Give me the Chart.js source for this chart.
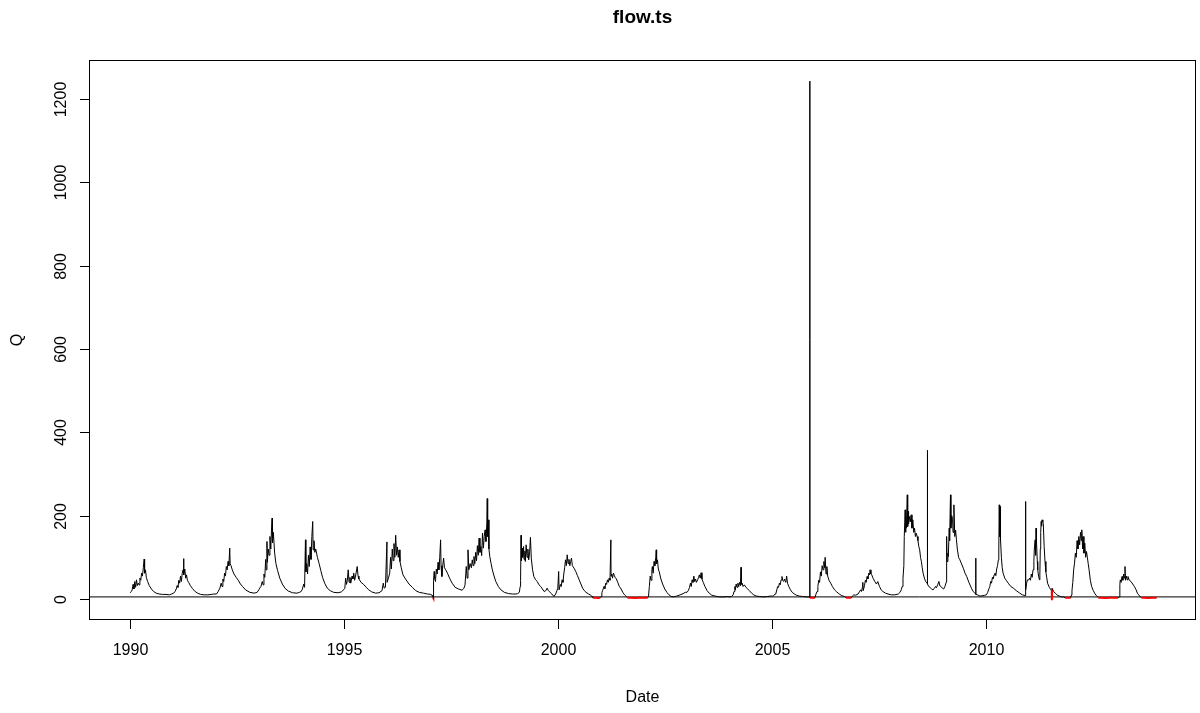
<!DOCTYPE html>
<html>
<head>
<meta charset="utf-8">
<title>flow.ts</title>
<script src="https://cdn.jsdelivr.net/npm/chart.js@4.4.1/dist/chart.umd.min.js"></script>
<style>
  html, body { margin: 0; padding: 0; background: #fff; }
  #wrap { position: relative; width: 1200px; height: 713px; }
</style>
</head>
<body>
<div id="wrap"><canvas id="chart-flow"></canvas></div>
<script>
// ─── DATA ────────────────────────────────────────────────────────────────────
// daily flow, as [fraction of year, Q]
const q1990 = [[0.00,15],[0.03,18],[0.05,22],[0.07,35],[0.09,24],[0.11,42],[0.13,28],[0.15,46],[0.17,32],[0.19,38],[0.21,34],[0.23,50],[0.25,45],[0.27,62],[0.29,55],[0.31,75],[0.33,96],[0.34,62],[0.36,70],[0.38,52],[0.41,42],[0.45,32],[0.50,24],[0.55,18],[0.61,14],[0.68,12],[0.76,11],[0.84,11],[0.92,10],[0.97,12]];
const q1991 = [[0.02,14],[0.05,18],[0.08,24],[0.10,32],[0.12,28],[0.14,45],[0.16,38],[0.18,55],[0.20,42],[0.22,62],[0.24,70],[0.25,97],[0.26,58],[0.28,72],[0.30,50],[0.32,58],[0.34,45],[0.37,40],[0.41,32],[0.46,25],[0.52,18],[0.58,14],[0.65,11],[0.73,10],[0.82,10],[0.90,11],[0.96,12]];
const q1992 = [[0.02,12],[0.06,18],[0.10,26],[0.13,38],[0.15,30],[0.17,48],[0.19,42],[0.21,62],[0.23,55],[0.25,78],[0.27,70],[0.29,90],[0.31,80],[0.33,122],[0.34,85],[0.36,80],[0.39,70],[0.43,60],[0.48,52],[0.53,45],[0.58,36],[0.63,30],[0.70,22],[0.80,16],[0.90,14],[0.97,16]];
const q1993 = [[0.01,22],[0.03,26],[0.06,30],[0.09,42],[0.11,34],[0.13,60],[0.15,52],[0.17,95],[0.18,70],[0.20,138],[0.21,88],[0.23,120],[0.25,105],[0.27,150],[0.29,120],[0.31,175],[0.32,194],[0.33,135],[0.35,160],[0.38,110],[0.41,85],[0.45,68],[0.50,50],[0.56,36],[0.62,26],[0.70,19],[0.80,15],[0.90,14],[0.96,16]];
const q1994 = [[0.00,18],[0.03,24],[0.06,36],[0.08,28],[0.10,142],[0.11,65],[0.13,85],[0.15,60],[0.17,105],[0.19,78],[0.21,125],[0.23,95],[0.25,150],[0.27,186],[0.28,118],[0.30,140],[0.32,112],[0.34,120],[0.38,100],[0.42,85],[0.46,68],[0.50,52],[0.55,38],[0.61,26],[0.68,20],[0.76,16],[0.86,15],[0.94,17]];
const q1995 = [[0.02,25],[0.04,50],[0.06,35],[0.08,45],[0.10,70],[0.12,40],[0.14,52],[0.16,38],[0.19,55],[0.21,48],[0.23,62],[0.25,45],[0.28,60],[0.31,78],[0.33,55],[0.35,48],[0.40,40],[0.46,35],[0.52,28],[0.58,22],[0.65,17],[0.74,14],[0.82,15],[0.89,20],[0.92,38],[0.94,26],[0.97,28]];
const q1996 = [[0.005,137],[0.01,40],[0.04,50],[0.07,62],[0.09,100],[0.11,72],[0.13,120],[0.15,92],[0.17,133],[0.19,100],[0.21,153],[0.23,105],[0.25,125],[0.27,100],[0.29,118],[0.31,90],[0.34,75],[0.38,58],[0.44,48],[0.52,36],[0.60,28],[0.68,20],[0.76,16],[0.86,14],[0.95,12]];
const q1997 = [[0.03,11],[0.06,9],[0.08,6],[0.085,3],[0.09,2],[0.095,45],[0.11,66],[0.12,50],[0.14,42],[0.16,72],[0.18,60],[0.20,88],[0.22,70],[0.24,100],[0.26,142],[0.27,80],[0.29,54],[0.31,80],[0.33,98],[0.35,75],[0.38,70],[0.42,62],[0.47,50],[0.53,38],[0.60,28],[0.68,24],[0.76,21],[0.80,25],[0.83,33],[0.86,78],[0.88,50],[0.90,118],[0.92,70],[0.95,85],[0.98,75]];
const q1998 = [[0.00,94],[0.02,80],[0.04,102],[0.06,85],[0.08,112],[0.10,92],[0.12,128],[0.14,105],[0.16,146],[0.18,112],[0.20,126],[0.22,104],[0.24,158],[0.26,122],[0.28,150],[0.30,166],[0.32,138],[0.34,180],[0.35,241],[0.36,150],[0.37,190],[0.39,120],[0.41,102],[0.44,85],[0.47,70],[0.51,55],[0.55,42],[0.61,30],[0.67,22],[0.75,16],[0.85,13],[0.94,12]];
const q1999 = [[0.02,12],[0.06,13],[0.10,16],[0.12,30],[0.13,45],[0.14,153],[0.15,92],[0.17,122],[0.18,100],[0.20,126],[0.21,95],[0.23,115],[0.24,90],[0.26,130],[0.28,100],[0.30,120],[0.32,94],[0.34,110],[0.36,148],[0.38,98],[0.41,70],[0.44,54],[0.48,46],[0.52,42],[0.56,34],[0.60,30],[0.64,24],[0.68,18],[0.72,20],[0.75,26],[0.78,20],[0.82,16],[0.86,12],[0.91,6],[0.95,12],[0.98,20]];
const q2000 = [[0.00,26],[0.02,66],[0.03,22],[0.06,35],[0.08,30],[0.10,46],[0.12,40],[0.14,60],[0.16,75],[0.18,94],[0.20,80],[0.22,106],[0.24,85],[0.26,95],[0.28,80],[0.30,90],[0.32,98],[0.34,80],[0.38,74],[0.42,66],[0.46,56],[0.50,46],[0.54,36],[0.58,26],[0.62,20],[0.66,16],[0.72,12],[0.77,9],[0.80,6],[0.82,3],[0.88,3],[0.94,2.5],[0.99,3]];
const q2001 = [[0.01,6],[0.03,15],[0.05,21],[0.08,30],[0.10,25],[0.12,38],[0.14,35],[0.16,46],[0.18,40],[0.20,50],[0.22,45],[0.24,142],[0.245,55],[0.26,60],[0.28,50],[0.30,62],[0.32,57],[0.34,52],[0.37,48],[0.40,40],[0.44,30],[0.48,24],[0.52,16],[0.56,10],[0.60,6],[0.63,3],[0.70,3],[0.80,2.5],[0.90,3],[0.98,3]];
const q2002 = [[0.03,3],[0.07,3],[0.10,3],[0.12,6],[0.14,30],[0.16,55],[0.18,45],[0.20,70],[0.21,78],[0.23,62],[0.25,90],[0.27,80],[0.29,100],[0.30,118],[0.31,85],[0.33,94],[0.35,72],[0.37,66],[0.41,48],[0.45,36],[0.50,24],[0.55,16],[0.60,10],[0.65,6],[0.70,5],[0.78,7],[0.86,10],[0.93,13],[0.98,16]];
const q2003 = [[0.02,16],[0.05,20],[0.08,28],[0.10,38],[0.12,30],[0.14,46],[0.16,40],[0.18,55],[0.20,42],[0.22,48],[0.24,40],[0.27,46],[0.29,52],[0.31,58],[0.33,50],[0.35,63],[0.37,48],[0.40,40],[0.44,30],[0.49,20],[0.54,14],[0.60,9],[0.68,7],[0.78,5],[0.88,5],[0.96,6]];
const q2004 = [[0.02,5],[0.06,6],[0.10,10],[0.12,18],[0.14,30],[0.15,22],[0.17,36],[0.19,28],[0.21,38],[0.23,30],[0.25,40],[0.27,32],[0.285,76],[0.29,35],[0.31,38],[0.33,30],[0.36,34],[0.40,28],[0.44,24],[0.48,20],[0.53,14],[0.58,10],[0.64,7],[0.72,6],[0.80,5],[0.90,6],[0.97,7]];
const q2005 = [[0.02,7],[0.05,8],[0.08,12],[0.10,14],[0.12,22],[0.14,30],[0.16,28],[0.18,38],[0.20,34],[0.22,46],[0.24,54],[0.26,44],[0.28,42],[0.30,48],[0.33,40],[0.35,55],[0.37,38],[0.40,30],[0.44,22],[0.48,16],[0.53,12],[0.58,9],[0.65,7],[0.72,6],[0.80,5],[0.885,5],[0.89,1243],[0.895,3],[0.94,3],[0.98,3]];
const q2006 = [[0.01,3],[0.03,10],[0.06,18],[0.08,30],[0.10,45],[0.12,40],[0.14,65],[0.16,55],[0.18,80],[0.20,70],[0.22,90],[0.24,75],[0.25,100],[0.27,60],[0.29,78],[0.31,55],[0.34,45],[0.38,38],[0.42,30],[0.47,22],[0.52,17],[0.58,12],[0.64,8],[0.70,6],[0.74,3],[0.80,3],[0.86,3],[0.88,6],[0.92,10],[0.96,9]];
const q2007 = [[0.02,12],[0.05,17],[0.08,22],[0.10,18],[0.12,28],[0.13,40],[0.14,20],[0.17,32],[0.19,45],[0.21,40],[0.23,54],[0.25,48],[0.27,62],[0.29,58],[0.30,70],[0.32,60],[0.34,58],[0.37,50],[0.41,42],[0.45,36],[0.48,42],[0.52,30],[0.56,22],[0.60,18],[0.66,14],[0.72,12],[0.80,10],[0.88,10],[0.96,12]];
const q2008 = [[0.00,16],[0.03,22],[0.05,30],[0.07,50],[0.09,80],[0.10,150],[0.12,214],[0.13,160],[0.14,200],[0.15,170],[0.17,250],[0.18,174],[0.19,210],[0.20,180],[0.22,198],[0.24,185],[0.26,202],[0.28,170],[0.30,190],[0.32,160],[0.34,170],[0.36,150],[0.38,158],[0.40,150],[0.42,140],[0.44,126],[0.46,118],[0.48,100],[0.50,90],[0.52,75],[0.54,62],[0.57,50],[0.60,42],[0.635,38],[0.64,357],[0.645,36],[0.67,30],[0.70,28],[0.74,24],[0.77,22],[0.80,25],[0.83,30],[0.85,27],[0.88,34],[0.91,42],[0.93,32],[0.96,30],[0.99,26]];
const q2009 = [[0.02,24],[0.05,30],[0.08,40],[0.09,150],[0.10,90],[0.12,110],[0.13,102],[0.15,170],[0.16,140],[0.18,250],[0.19,170],[0.21,200],[0.23,190],[0.24,160],[0.26,226],[0.28,150],[0.30,165],[0.32,142],[0.34,120],[0.37,100],[0.40,94],[0.44,84],[0.48,74],[0.52,62],[0.56,54],[0.61,40],[0.67,26],[0.71,18],[0.75,14],[0.765,13],[0.77,98],[0.775,11],[0.81,10],[0.87,7],[0.94,8],[0.98,9]];
const q2010 = [[0.02,10],[0.05,16],[0.08,25],[0.10,30],[0.12,42],[0.14,38],[0.16,52],[0.18,48],[0.20,58],[0.22,62],[0.24,56],[0.26,72],[0.28,80],[0.30,94],[0.31,120],[0.32,226],[0.33,150],[0.34,222],[0.35,142],[0.37,100],[0.39,75],[0.41,62],[0.45,50],[0.49,44],[0.53,38],[0.59,30],[0.65,26],[0.72,20],[0.80,14],[0.86,10],[0.93,8],[0.935,234],[0.94,22],[0.96,38],[0.98,46]];
const q2011 = [[0.01,46],[0.03,50],[0.05,45],[0.07,60],[0.09,52],[0.11,70],[0.13,90],[0.14,120],[0.16,142],[0.17,105],[0.18,170],[0.19,140],[0.21,90],[0.22,70],[0.24,55],[0.26,46],[0.27,60],[0.28,120],[0.29,160],[0.30,186],[0.31,175],[0.32,190],[0.34,186],[0.35,181],[0.37,126],[0.39,90],[0.41,65],[0.43,52],[0.45,38],[0.49,28],[0.53,22],[0.548,18],[0.55,-3],[0.552,-3],[0.555,26],[0.59,18],[0.63,14],[0.68,9],[0.73,7],[0.78,5],[0.82,5],[0.86,3],[0.91,3],[0.96,3],[0.99,3]];
const q2012 = [[0.01,10],[0.02,20],[0.04,40],[0.06,70],[0.08,86],[0.10,110],[0.12,100],[0.14,140],[0.16,120],[0.18,150],[0.20,130],[0.22,160],[0.24,140],[0.25,166],[0.27,120],[0.28,150],[0.30,110],[0.32,134],[0.34,100],[0.36,114],[0.38,100],[0.40,85],[0.42,70],[0.45,45],[0.48,30],[0.52,20],[0.55,14],[0.59,8],[0.62,5],[0.64,3],[0.70,3],[0.80,2.5],[0.90,3],[0.98,3]];
const q2013 = [[0.02,3],[0.06,3],[0.10,3],[0.13,5],[0.14,35],[0.15,46],[0.17,40],[0.19,54],[0.21,45],[0.23,60],[0.25,50],[0.26,78],[0.27,45],[0.29,55],[0.31,46],[0.33,54],[0.36,45],[0.40,42],[0.44,36],[0.48,30],[0.52,22],[0.55,14],[0.58,10],[0.62,5],[0.65,3],[0.72,3],[0.80,2.5],[0.90,3],[1.00,3]];

const years = [1990,1991,1992,1993,1994,1995,1996,1997,1998,1999,2000,2001,2002,2003,2004,2005,2006,2007,2008,2009,2010,2011,2012,2013];
const yearly = [q1990,q1991,q1992,q1993,q1994,q1995,q1996,q1997,q1998,q1999,q2000,q2001,q2002,q2003,q2004,q2005,q2006,q2007,q2008,q2009,q2010,q2011,q2012,q2013];

const xTicks = [1990, 1995, 2000, 2005, 2010];
const yTicks = [0, 200, 400, 600, 800, 1000, 1200];
const xMin = 1989.04, xMax = 2014.92;   // R pads the data range by 4%
const yMin = -50.4, yMax = 1293.6;
const refLevel = 5;     // abline(h = 5)
const lowFlow = 4;      // below this the trace is drawn red

// ─── BUILD ───────────────────────────────────────────────────────────────────
const flowPoints = [];
yearly.forEach((rows, i) => rows.forEach(([f, q]) => flowPoints.push({ x: years[i] + f, y: q })));

const isLow = c => (c.p0.parsed.y < lowFlow && c.p1.parsed.y < lowFlow) || c.p0.parsed.y < 0 || c.p1.parsed.y < 0;

const FONT = '"Liberation Sans", Arial, Helvetica, sans-serif';

// base-R style box, ticks and labels
const rAxes = {
  id: 'rAxes',
  afterDraw(chart) {
    const { ctx, chartArea: a, scales: { x, y } } = chart;
    ctx.save();
    ctx.strokeStyle = '#000';
    ctx.lineWidth = 1;
    ctx.strokeRect(a.left + 0.5, a.top + 0.5, a.right - a.left - 1, a.bottom - a.top - 1);

    ctx.fillStyle = '#000';
    ctx.font = '16px ' + FONT;
    ctx.textAlign = 'center';
    ctx.textBaseline = 'middle';

    xTicks.forEach(v => {
      const px = Math.round(x.getPixelForValue(v)) + 0.5;
      ctx.beginPath(); ctx.moveTo(px, a.bottom); ctx.lineTo(px, a.bottom + 9); ctx.stroke();
      ctx.fillText(String(v), px, a.bottom + 31);
    });
    yTicks.forEach(v => {
      const py = Math.round(y.getPixelForValue(v)) + 0.5;
      ctx.beginPath(); ctx.moveTo(a.left, py); ctx.lineTo(a.left - 9, py); ctx.stroke();
      ctx.save(); ctx.translate(a.left - 27, py); ctx.rotate(-Math.PI / 2);
      ctx.fillText(String(v), 0, 0);
      ctx.restore();
    });

    const cx = (a.left + a.right) / 2;
    ctx.fillText('Date', cx, a.bottom + 78);
    ctx.save(); ctx.translate(18, (a.top + a.bottom) / 2); ctx.rotate(-Math.PI / 2);
    ctx.fillText('Q', 0, 0);
    ctx.restore();

    ctx.font = 'bold 19px ' + FONT;
    ctx.fillText('flow.ts', cx, 18);
    ctx.restore();
  }
};

new Chart(document.getElementById('chart-flow'), {
  type: 'line',
  data: {
    datasets: [
      {
        data: flowPoints,
        borderColor: '#000',
        borderWidth: 1,
        pointRadius: 0,
        tension: 0,
        segment: {
          borderColor: c => isLow(c) ? '#ff0000' : '#000',
          borderWidth: c => isLow(c) ? 2 : 1
        }
      },
      {
        data: [{ x: xMin, y: refLevel }, { x: xMax, y: refLevel }],
        borderColor: '#000',
        borderWidth: 1,
        pointRadius: 0
      }
    ]
  },
  options: {
    responsive: true,
    maintainAspectRatio: false,
    animation: false,
    events: [],
    layout: { padding: { left: 89, right: 4, top: 60, bottom: 93 } },
    plugins: { legend: { display: false }, tooltip: { enabled: false } },
    scales: {
      x: { type: 'linear', min: xMin, max: xMax, display: false },
      y: { type: 'linear', min: yMin, max: yMax, display: false }
    }
  },
  plugins: [rAxes]
});
</script>
</body>
</html>
